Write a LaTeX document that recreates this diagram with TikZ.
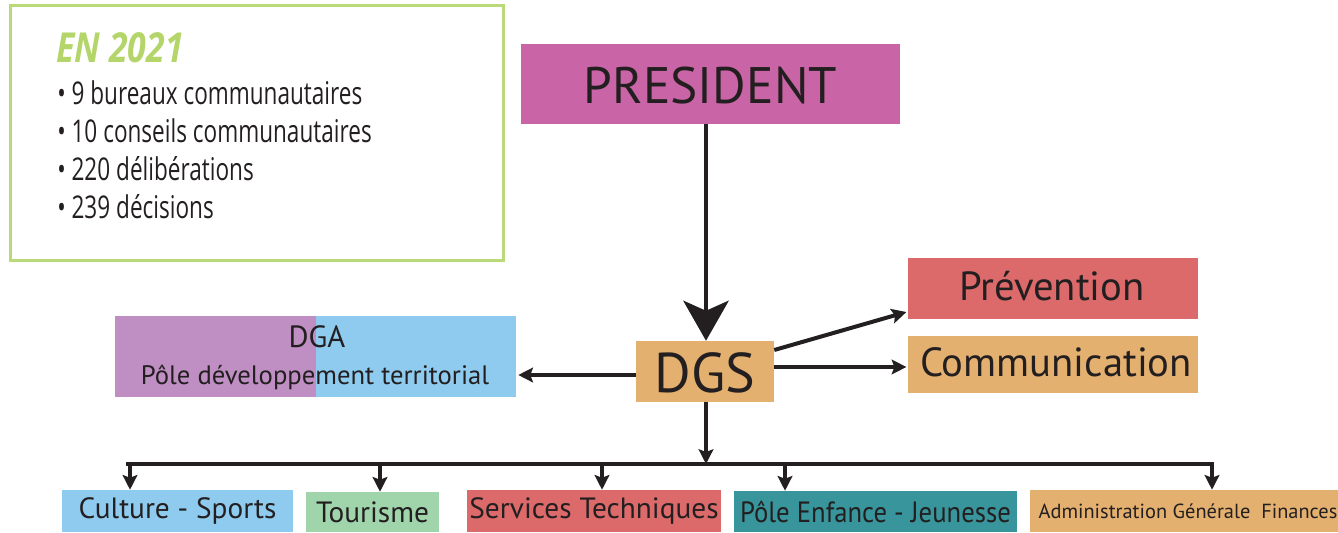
\documentclass[tikz,border=0pt]{standalone}
\usepackage{fontspec}
\setmainfont{PT Sans}
\newfontfamily\narrowfont[FakeStretch=0.91]{PT Sans}
\newfontfamily\condfont[FakeStretch=0.72]{Open Sans}
\newfontfamily\condbold[FakeStretch=0.82]{Open Sans}
\usetikzlibrary{arrows.meta}
\definecolor{cpres}{HTML}{C964A6}
\definecolor{corange}{HTML}{E3B06F}
\definecolor{cred}{HTML}{DD6A6A}
\definecolor{cpurple}{HTML}{BF8FC3}
\definecolor{cblue}{HTML}{8ECBEF}
\definecolor{cgreen}{HTML}{A0D5AC}
\definecolor{cteal}{HTML}{37959B}
\definecolor{cborder}{HTML}{BADA7A}
\definecolor{ctitle}{HTML}{B3D569}
\definecolor{ctext}{HTML}{231F20}
\tikzset{
  box/.style={rectangle, inner sep=0pt, text=ctext, anchor=center},
  conn/.style={draw=ctext, line width=3pt},
  bigtip/.style={-{Stealth[length=30pt, width=34pt, inset=7.5pt]}},
  smalltip/.style={-{Stealth[length=11pt, width=11pt, inset=2pt]}},
  listline/.style={anchor=base west, inner sep=0pt, text=ctext, font=\condfont\fontsize{23.5pt}{26pt}\selectfont},
}
\begin{document}
\begin{tikzpicture}[x=0.75pt, y=-0.75pt]
\useasboundingbox (0,0) rectangle (1338,532);
% info box
\draw[cborder, line width=2.25pt] (10,5) rectangle (503,260);
\node[anchor=base west, inner sep=0pt, text=ctitle, font=\condbold\bfseries\itshape\fontsize{31pt}{34pt}\selectfont] (title) at (56,62) {EN 2021};
\node[listline] (l1) at (57,104) {• 9 bureaux communautaires};
\node[listline] (l2) at (57,142) {• 10 conseils communautaires};
\node[listline] (l3) at (57,180) {• 220 délibérations};
\node[listline] (l4) at (57,218) {• 239 décisions};
% main boxes
\node[box, fill=cpres, minimum width=284.25pt, minimum height=60pt] (pres) at (710.5,84) {};
\node[anchor=base, inner sep=0pt, text=ctext, font=\fontsize{38.5pt}{40pt}\selectfont] (prest) at (710.5,103) {PRESIDENT};
\node[box, fill=corange, minimum width=103.5pt, minimum height=45.75pt] (dgs) at (705,371.5) {};
\node[anchor=base, inner sep=0pt, text=ctext, font=\fontsize{42pt}{46pt}\selectfont] (dgst) at (705,392) {DGS};
\fill[cpurple] (115,316) rectangle (316,397);
\fill[cblue] (316,316) rectangle (516,397);
\node[box, minimum width=300.75pt, minimum height=60.75pt] (dga) at (315.5,356.5) {};
\node[anchor=base, inner sep=0pt, text=ctext, font=\fontsize{23pt}{26pt}\selectfont] (dgat) at (317,347) {DGA};
\node[anchor=base, inner sep=0pt, text=ctext, font=\fontsize{20pt}{22pt}\selectfont] (dgat2) at (315,384) {Pôle développement territorial};
\node[box, fill=cred, minimum width=217.5pt, minimum height=45.75pt] (prev) at (1053,288.5) {};
\node[anchor=base, inner sep=0pt, text=ctext, font=\fontsize{30.5pt}{34pt}\selectfont] (prevt) at (1052,300) {Prévention};
\node[box, fill=corange, minimum width=217.5pt, minimum height=42.75pt] (comm) at (1053,364.5) {};
\node[anchor=base, inner sep=0pt, text=ctext, font=\fontsize{30.5pt}{34pt}\selectfont] (commt) at (1056,376) {Communication};
% bottom boxes
\tikzset{bottom/.style={box, minimum height=31.5pt, font=\fontsize{22pt}{24pt}\selectfont}}
\node[bottom, fill=cblue, minimum width=173.25pt] (cult) at (177.5,511) {Culture - Sports};
\node[bottom, fill=cgreen, minimum width=99.75pt, minimum height=30pt] (tour) at (372.5,512) {Tourisme};
\node[bottom, fill=cred, minimum width=190.5pt] (serv) at (594,511) {Services Techniques};
\node[bottom, fill=cteal, minimum width=212.25pt, minimum height=30.75pt, font=\narrowfont\fontsize{22pt}{24pt}\selectfont] (enf) at (875.5,511.5) {Pôle Enfance - Jeunesse};
\node[bottom, fill=corange, minimum width=237pt, font=\fontsize{15.3pt}{17pt}\selectfont] (adm) at (1188,511) {Administration Générale\ \ Finances};
% reference coordinates
\coordinate (vx) at (706,0);
\coordinate (busc) at (706,464);
\coordinate (busl) at (128,464);
\coordinate (busr) at (1212,464);
\coordinate (b1) at (130,464);
\coordinate (b2) at (380,464);
\coordinate (b3) at (602,464);
\coordinate (b4) at (785,464);
\coordinate (yl) at (0,375);
\coordinate (yp1) at (0,350);
\coordinate (yp2) at (0,312);
\coordinate (yc) at (0,367);
% connectors
\draw[conn, bigtip] (pres.south -| vx) -- (dgs.north -| vx);
\draw[conn, smalltip] (dgs.west |- yl) -- ([xshift=1.5pt]dga.east |- yl);
\draw[conn, smalltip] (dgs.east |- yp1) -- ([xshift=-1pt]prev.west |- yp2);
\draw[conn, smalltip] (dgs.east |- yc) -- ([xshift=-1pt]comm.west |- yc);
\draw[conn, smalltip] (dgs.south -| vx) -- (busc);
\draw[conn, line cap=rect] (busl) -- (busr);
\draw[conn, smalltip] (b1) -- (b1 |- cult.north);
\draw[conn, smalltip] (b2) -- (b2 |- tour.north);
\draw[conn, smalltip] (b3) -- (b3 |- serv.north);
\draw[conn, smalltip] (b4) -- (b4 |- enf.north);
\draw[conn, smalltip] (busr) -- (busr |- adm.north);
\end{tikzpicture}
\end{document}
